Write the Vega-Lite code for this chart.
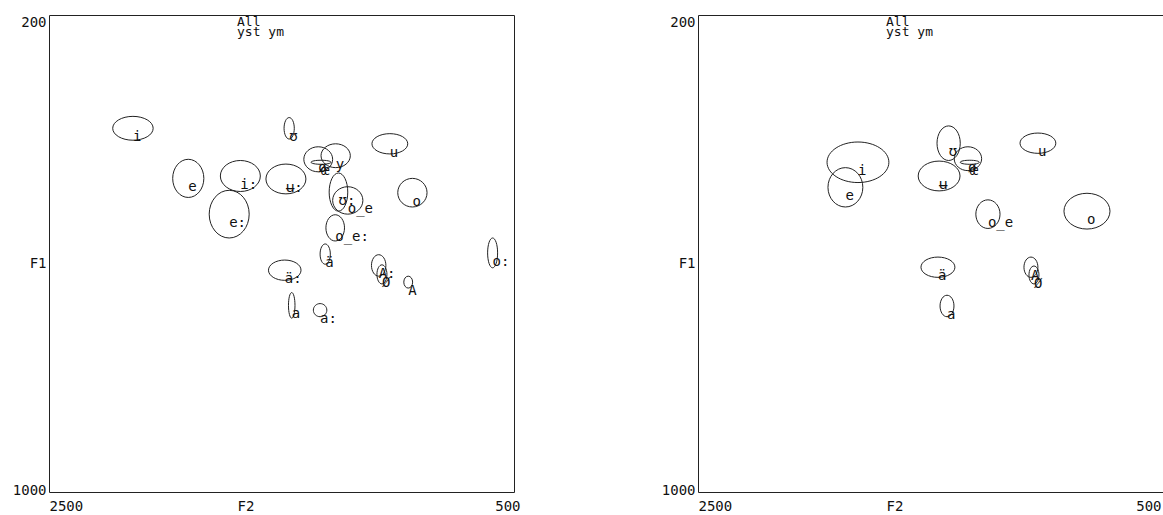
{
  "$schema": "https://vega.github.io/schema/vega-lite/v6.json",
  "padding": {"left": 5, "top": 14, "right": 0, "bottom": 0},
  "bounds": "flush",
  "spacing": 184,
  "resolve": {"scale": {"x": "shared", "y": "shared"}, "axis": {"x": "independent", "y": "independent"}},
  "config": {
    "view": {"stroke": "#222", "strokeWidth": 1},
    "font": "DejaVu Sans Mono",
    "axis": {
      "grid": false, "ticks": false, "domain": false,
      "labelFont": "DejaVu Sans Mono", "labelFontSize": 14, "labelColor": "#111",
      "labelFlush": false, "labelOverlap": false,
      "titleFont": "DejaVu Sans Mono", "titleFontSize": 14, "titleFontWeight": "normal", "titleColor": "#111"
    }
  },
  "datasets": {
    "formants": [
      {"panel": 1, "label": "i", "f2": 2139, "f1": 390, "s2": 87, "s1": 20},
      {"panel": 1, "label": "e", "f2": 1901, "f1": 474, "s2": 67, "s1": 32},
      {"panel": 1, "label": "i:", "f2": 1677, "f1": 470, "s2": 86, "s1": 26},
      {"panel": 1, "label": "e:", "f2": 1725, "f1": 534, "s2": 86, "s1": 40},
      {"panel": 1, "label": "ʊ", "f2": 1467, "f1": 390, "s2": 22, "s1": 18},
      {"panel": 1, "label": "ʉ:", "f2": 1481, "f1": 475, "s2": 86, "s1": 25},
      {"panel": 1, "label": "ø", "f2": 1342, "f1": 442, "s2": 62, "s1": 21},
      {"panel": 1, "label": "œ", "f2": 1330, "f1": 447, "s2": 43, "s1": 3.4},
      {"panel": 1, "label": "y", "f2": 1267, "f1": 436, "s2": 63, "s1": 20},
      {"panel": 1, "label": "u", "f2": 1034, "f1": 416, "s2": 77, "s1": 17},
      {"panel": 1, "label": "ʊ:", "f2": 1255, "f1": 497, "s2": 40, "s1": 32},
      {"panel": 1, "label": "o_e", "f2": 1215, "f1": 511, "s2": 65, "s1": 23},
      {"panel": 1, "label": "o", "f2": 937, "f1": 498, "s2": 63, "s1": 24},
      {"panel": 1, "label": "o_e:", "f2": 1269, "f1": 557, "s2": 40, "s1": 22},
      {"panel": 1, "label": "ä", "f2": 1312, "f1": 601, "s2": 22, "s1": 17},
      {"panel": 1, "label": "ä:", "f2": 1486, "f1": 628, "s2": 70, "s1": 17},
      {"panel": 1, "label": "a", "f2": 1456, "f1": 687, "s2": 14, "s1": 21.5},
      {"panel": 1, "label": "a:", "f2": 1334, "f1": 695, "s2": 29, "s1": 11},
      {"panel": 1, "label": "A:", "f2": 1082, "f1": 620, "s2": 31, "s1": 18},
      {"panel": 1, "label": "Ø", "f2": 1068, "f1": 635, "s2": 21.5, "s1": 16},
      {"panel": 1, "label": "A", "f2": 955, "f1": 648, "s2": 19, "s1": 10},
      {"panel": 1, "label": "o:", "f2": 592, "f1": 599, "s2": 21.5, "s1": 25},
      {"panel": 2, "label": "i", "f2": 1812, "f1": 447, "s2": 133, "s1": 34},
      {"panel": 2, "label": "e", "f2": 1866, "f1": 489, "s2": 75, "s1": 33},
      {"panel": 2, "label": "ʊ", "f2": 1422, "f1": 415, "s2": 50, "s1": 29},
      {"panel": 2, "label": "ø", "f2": 1339, "f1": 441, "s2": 59, "s1": 20},
      {"panel": 2, "label": "œ", "f2": 1331, "f1": 447, "s2": 41, "s1": 3.4},
      {"panel": 2, "label": "ʉ", "f2": 1463, "f1": 470, "s2": 90, "s1": 25},
      {"panel": 2, "label": "u", "f2": 1038, "f1": 415, "s2": 77, "s1": 17},
      {"panel": 2, "label": "o_e", "f2": 1253, "f1": 534, "s2": 52, "s1": 24},
      {"panel": 2, "label": "o", "f2": 827, "f1": 529, "s2": 99, "s1": 30},
      {"panel": 2, "label": "ä", "f2": 1468, "f1": 623, "s2": 73, "s1": 17},
      {"panel": 2, "label": "a", "f2": 1429, "f1": 688, "s2": 30, "s1": 18},
      {"panel": 2, "label": "A", "f2": 1068, "f1": 623, "s2": 30, "s1": 17},
      {"panel": 2, "label": "Ø", "f2": 1055, "f1": 636, "s2": 21.5, "s1": 15}
    ]
  },
  "hconcat": [
    {
      "width": 465,
      "height": 477,
      "title": {"text": ["All", "yst ym"], "anchor": "start", "frame": "group", "orient": "top", "dx": 188, "offset": -24, "baseline": "top", "font": "DejaVu Sans Mono", "fontSize": 13, "fontWeight": "normal", "lineHeight": 10, "color": "#111"},
      "data": {"name": "formants"},
      "transform": [{"filter": "datum.panel == 1"}],
      "encoding": {
        "x": {
          "field": "f2", "type": "quantitative",
          "scale": {"domain": [500, 2500], "reverse": true, "nice": false, "zero": false},
          "axis": {
            "title": "F2", "values": [2500, 500], "format": "d",
            "labelAlign": {"condition": {"test": "datum.value == 2500", "value": "left"}, "value": "right"},
            "labelOffset": {"condition": {"test": "datum.value == 500", "value": 6}, "value": 0},
            "labelBaseline": "top", "labelPadding": 7,
            "titleAlign": "left", "titleBaseline": "top", "titleX": 188, "titleY": 7, "titleAngle": 0
          }
        },
        "y": {
          "field": "f1", "type": "quantitative",
          "scale": {"domain": [200, 1000], "reverse": true, "nice": false, "zero": false},
          "axis": {
            "title": "F1", "values": [200, 1000], "format": "d",
            "labelAlign": "right", "labelPadding": 3,
            "labelBaseline": {"condition": {"test": "datum.value == 200", "value": "top"}, "value": "middle"},
            "labelOffset": {"condition": {"test": "datum.value == 200", "value": 0}, "value": -2},
            "titleAngle": 0, "titleAlign": "right", "titleBaseline": "middle", "titleX": -3, "titleY": 248,
            "minExtent": 43, "maxExtent": 43
          }
        }
      },
      "layer": [
        {
          "mark": {
            "type": "point", "filled": false, "size": 4, "strokeWidth": 1, "color": "#222", "opacity": 1,
            "shape": {"expr": "'M' + (-abs(scale('x', datum.f2 + datum.s2) - scale('x', datum.f2))) + ',0A' + abs(scale('x', datum.f2 + datum.s2) - scale('x', datum.f2)) + ',' + abs(scale('y', datum.f1 + datum.s1) - scale('y', datum.f1)) + ',0,1,0,' + abs(scale('x', datum.f2 + datum.s2) - scale('x', datum.f2)) + ',0A' + abs(scale('x', datum.f2 + datum.s2) - scale('x', datum.f2)) + ',' + abs(scale('y', datum.f1 + datum.s1) - scale('y', datum.f1)) + ',0,1,0,' + (-abs(scale('x', datum.f2 + datum.s2) - scale('x', datum.f2))) + ',0Z'"}
          }
        },
        {
          "mark": {"type": "text", "align": "left", "baseline": "alphabetic", "dy": 13, "fontSize": 14, "font": "DejaVu Sans Mono", "color": "#111"},
          "encoding": {"text": {"field": "label", "type": "nominal"}}
        }
      ]
    },
    {
      "width": 465,
      "height": 477,
      "title": {"text": ["All", "yst ym"], "anchor": "start", "frame": "group", "orient": "top", "dx": 188, "offset": -24, "baseline": "top", "font": "DejaVu Sans Mono", "fontSize": 13, "fontWeight": "normal", "lineHeight": 10, "color": "#111"},
      "data": {"name": "formants"},
      "transform": [{"filter": "datum.panel == 2"}],
      "encoding": {
        "x": {
          "field": "f2", "type": "quantitative",
          "scale": {"domain": [500, 2500], "reverse": true, "nice": false, "zero": false},
          "axis": {
            "title": "F2", "values": [2500, 500], "format": "d",
            "labelAlign": {"condition": {"test": "datum.value == 2500", "value": "left"}, "value": "right"},
            "labelOffset": {"condition": {"test": "datum.value == 500", "value": -2}, "value": 0},
            "labelBaseline": "top", "labelPadding": 7,
            "titleAlign": "left", "titleBaseline": "top", "titleX": 188, "titleY": 7, "titleAngle": 0
          }
        },
        "y": {
          "field": "f1", "type": "quantitative",
          "scale": {"domain": [200, 1000], "reverse": true, "nice": false, "zero": false},
          "axis": {
            "title": "F1", "values": [200, 1000], "format": "d",
            "labelAlign": "right", "labelPadding": 3,
            "labelBaseline": {"condition": {"test": "datum.value == 200", "value": "top"}, "value": "middle"},
            "labelOffset": {"condition": {"test": "datum.value == 200", "value": 0}, "value": -2},
            "titleAngle": 0, "titleAlign": "right", "titleBaseline": "middle", "titleX": -3, "titleY": 248,
            "minExtent": 43, "maxExtent": 43
          }
        }
      },
      "layer": [
        {
          "mark": {
            "type": "point", "filled": false, "size": 4, "strokeWidth": 1, "color": "#222", "opacity": 1,
            "shape": {"expr": "'M' + (-abs(scale('x', datum.f2 + datum.s2) - scale('x', datum.f2))) + ',0A' + abs(scale('x', datum.f2 + datum.s2) - scale('x', datum.f2)) + ',' + abs(scale('y', datum.f1 + datum.s1) - scale('y', datum.f1)) + ',0,1,0,' + abs(scale('x', datum.f2 + datum.s2) - scale('x', datum.f2)) + ',0A' + abs(scale('x', datum.f2 + datum.s2) - scale('x', datum.f2)) + ',' + abs(scale('y', datum.f1 + datum.s1) - scale('y', datum.f1)) + ',0,1,0,' + (-abs(scale('x', datum.f2 + datum.s2) - scale('x', datum.f2))) + ',0Z'"}
          }
        },
        {
          "mark": {"type": "text", "align": "left", "baseline": "alphabetic", "dy": 13, "fontSize": 14, "font": "DejaVu Sans Mono", "color": "#111"},
          "encoding": {"text": {"field": "label", "type": "nominal"}}
        }
      ]
    }
  ]
}
